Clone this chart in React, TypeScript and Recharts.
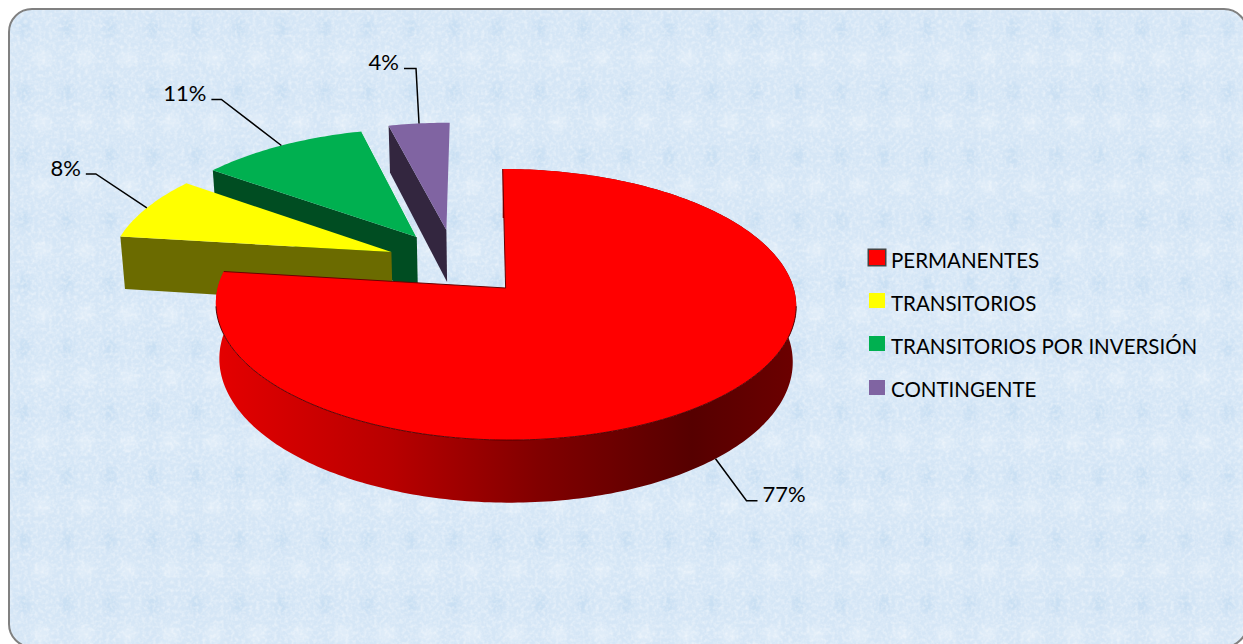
import React from 'react';
import { PieChart, Pie, Legend } from 'recharts';

const categories = ['PERMANENTES', 'TRANSITORIOS', 'TRANSITORIOS POR INVERSIÓN', 'CONTINGENTE'];
const values = [77, 8, 11, 4];
const topColors = ['#ff0000', '#ffff00', '#00b050', '#8064a2'];
const sideColors = ['url(#redWall)', '#6b6b00', '#004d22', '#33263f'];
const seamColors = ['none', 'none', '#e6f0f8', 'none'];

// how far each slice is pulled out, in units of the radius (u right, v toward viewer)
const explodeU = [-0.003, -0.41, -0.322, -0.215];
const explodeV = [0, -0.279, -0.4, -0.459];

// leader line: anchor -> elbow -> end
const elbowX = [31, -51, -60, -3];
const elbowY = [42, -34, -46, -55];
const tailX = [11, -10, -10, -12];

const FONT = 'Lato, "Open Sans", sans-serif';
const TILT = 0.4635;
const PERSPECTIVE = 0.122;
const VANISH_X = 28; // vanishing point sits left of the centre
const DEPTH = 55;
const BOTTOM_SCALE = 0.988;

// painted back to front, so the big slice has to come last
const table = categories
  .map((name, i) => ({
    name,
    value: values[i],
    fill: topColors[i],
    side: sideColors[i],
    seam: seamColors[i],
    offU: explodeU[i],
    offV: explodeV[i],
    elbowX: elbowX[i],
    elbowY: elbowY[i],
    tailX: tailX[i],
    big: i === 0,
  }))
  .reverse();

const project = (cx: number, cy: number, r: number, u: number, v: number, bottom = false) => {
  const d = 1 - PERSPECTIVE * v;
  const s = bottom ? BOTTOM_SCALE : 1;
  return [cx - VANISH_X + (VANISH_X + u * r * s) / d, cy + (TILT * r * v) / d + (bottom ? DEPTH / d : 0)];
};

const toLine = (pts: number[][]) =>
  pts.map((p, i) => `${i ? 'L' : 'M'}${p[0].toFixed(2)},${p[1].toFixed(2)}`).join(' ');
const toPath = (pts: number[][]) => toLine(pts) + ' Z';

const SliceShape = (props: any) => {
  const { cx, cy, outerRadius: r, startAngle, endAngle } = props;
  const item = props.payload ?? props;
  const { offU, offV, fill, side, big, seam } = item;

  const arc = (bottom: boolean) => {
    const pts: number[][] = [];
    const steps = Math.ceil(Math.abs(endAngle - startAngle));
    for (let i = 0; i <= steps; i++) {
      const a = ((startAngle + ((endAngle - startAngle) * i) / steps) * Math.PI) / 180;
      pts.push(project(cx, cy, r, offU + Math.cos(a), offV - Math.sin(a), bottom));
    }
    return pts;
  };

  const apexTop = project(cx, cy, r, offU, offV);
  const apexBottom = project(cx, cy, r, offU, offV, true);
  const top = arc(false);
  const bottom = arc(true);

  if (big) {
    const front = top.filter((p) => p[1] > cy + 18);
    return (
      <g>
        <path d={toPath([...top, ...bottom.slice().reverse()])} fill={side} />
        <path d={toPath([apexTop, ...top])} fill={fill} />
        <path d={toLine(front)} fill="none" stroke="#4a0000" strokeWidth={0.9} />
        <path d={toLine([top[0], apexTop, top[top.length - 1]])} fill="none" stroke="#6a0000" strokeWidth={1} />
      </g>
    );
  }
  // the cut face runs from the centre to the arc's far corner
  const corner = top[top.length - 1];
  const cornerBottom = bottom[bottom.length - 1];
  return (
    <g>
      <path d={toPath([apexTop, corner, cornerBottom, apexBottom])} fill={side} />
      <path d={toPath([apexTop, ...top])} fill={fill} />
      <path d={toLine([top[0], apexTop])} fill="none" stroke={seam} strokeWidth={1} />
    </g>
  );
};

const SliceLabel = (props: any) => {
  const { cx, cy, outerRadius: r, midAngle, payload, value } = props;
  const item = payload ?? props;
  const a = (midAngle * Math.PI) / 180;
  const u = item.offU + Math.cos(a);
  const v = item.offV - Math.sin(a);
  const [ax, ay] = project(cx, cy, r, u, v, item.big);
  const ex = ax + item.elbowX;
  const ey = ay + item.elbowY;
  const tx = ex + item.tailX;
  const right = item.tailX > 0;
  return (
    <g>
      <polyline points={`${ax},${ay} ${ex},${ey} ${tx},${ey}`} fill="none" stroke="#000" strokeWidth={1.5} />
      <text
        x={tx + (right ? 5 : -5)}
        y={ey - 4}
        textAnchor={right ? 'start' : 'end'}
        dominantBaseline="middle"
        fontFamily={FONT}
        fontSize={22}
        fill="#000"
      >
        {`${value}%`}
      </text>
    </g>
  );
};

const LegendBox = ({ payload }: any) => (
  <div style={{ fontFamily: FONT, fontSize: 20.5, color: '#000', lineHeight: '20px' }}>
    {(payload ?? [])
      .slice()
      .reverse()
      .map((entry: any, i: number) => (
        <div key={entry.value} style={{ display: 'flex', alignItems: 'center', height: 43.2 }}>
          <span
            style={{
              width: 16,
              height: 15,
              marginRight: 6,
              background: entry.color,
              boxShadow: i === 0 ? '0 0 0 1.5px #444' : 'none',
              display: 'inline-block',
            }}
          />
          <span style={{ whiteSpace: 'nowrap', position: 'relative', top: 2 }}>{entry.value}</span>
        </div>
      ))}
  </div>
);

const App = () => (
  <div style={{ position: 'fixed', left: 0, top: 0, width: 1243, height: 644, overflow: 'hidden', background: '#fff' }}>
    <div
      style={{
        position: 'absolute',
        left: 8,
        top: 8,
        width: 1240,
        height: 640,
        boxSizing: 'border-box',
        border: '2px solid #808080',
        borderRadius: 24,
        overflow: 'hidden',
        background: '#d5e6f6',
      }}
    >
      <svg width="100%" height="100%" style={{ position: 'absolute', left: 0, top: 0 }}>
        <defs>
          <filter id="grain" x="0" y="0" width="100%" height="100%">
            <feTurbulence type="fractalNoise" baseFrequency="0.28" numOctaves={2} seed={4} stitchTiles="stitch" />
            <feColorMatrix values="0 0 0 0 1  0 0 0 0 1  0 0 0 0 1  1.6 0 0 0 -0.62" />
          </filter>
          <filter id="soft" x="0" y="0" width="100%" height="100%">
            <feGaussianBlur stdDeviation="3" />
          </filter>
          <pattern id="tile" width="43" height="64" patternUnits="userSpaceOnUse">
            <ellipse cx="14" cy="18" rx="6" ry="10" fill="#a9cdec" opacity="0.3" />
            <ellipse cx="32" cy="48" rx="9" ry="8" fill="#ffffff" opacity="0.25" />
          </pattern>
        </defs>
        <rect width="100%" height="100%" fill="url(#tile)" filter="url(#soft)" />
        <rect width="100%" height="100%" filter="url(#grain)" opacity="0.55" />
      </svg>
    </div>
    <PieChart width={1243} height={644} margin={{ top: 0, right: 0, bottom: 0, left: 0 }} style={{ position: 'absolute', left: 0, top: 0 }}>
      <defs>
        <linearGradient id="redWall" gradientUnits="userSpaceOnUse" x1="218" y1="0" x2="796" y2="0">
          <stop offset="0" stopColor="#e40000" />
          <stop offset="0.3" stopColor="#b80000" />
          <stop offset="0.55" stopColor="#820000" />
          <stop offset="0.82" stopColor="#560000" />
          <stop offset="1" stopColor="#6c0000" />
        </linearGradient>
      </defs>
      <Pie
        data={table}
        dataKey="value"
        nameKey="name"
        cx={506.5}
        cy={288}
        innerRadius={0}
        outerRadius={288}
        startAngle={90}
        endAngle={450}
        stroke="none"
        shape={SliceShape}
        label={SliceLabel}
        labelLine={false}
        isAnimationActive={false}
      />
      <Legend
        layout="vertical"
        align="right"
        verticalAlign="middle"
        itemSorter={null}
        content={LegendBox}
        wrapperStyle={{ left: 869, top: 236, width: 360, right: 'auto', bottom: 'auto' }}
      />
    </PieChart>
  </div>
);

export default App;
